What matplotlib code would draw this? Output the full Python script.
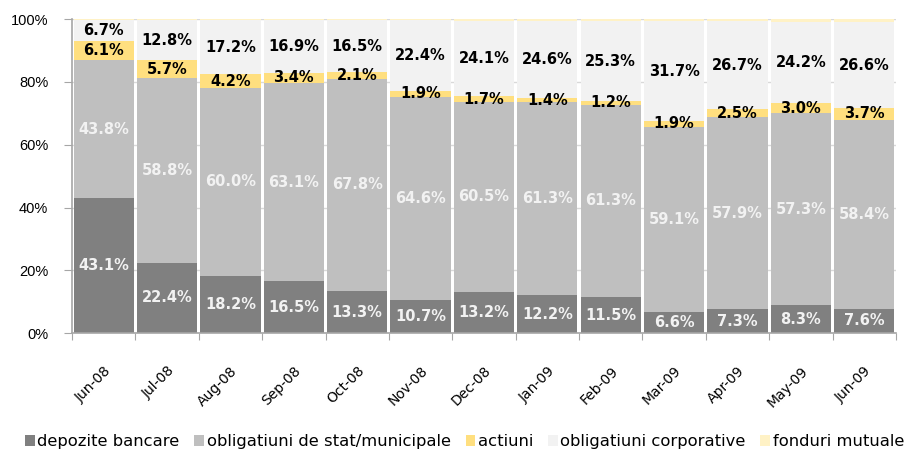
import matplotlib.pyplot as plt
import numpy as np

months = ["Jun-08", "Jul-08", "Aug-08", "Sep-08", "Oct-08", "Nov-08", "Dec-08",
          "Jan-09", "Feb-09", "Mar-09", "Apr-09", "May-09", "Jun-09"]
depozite = [43.1, 22.4, 18.2, 16.5, 13.3, 10.7, 13.2, 12.2, 11.5, 6.6, 7.3, 8.3, 7.6]
oblig_stat = [43.8, 58.8, 60.0, 63.1, 67.8, 64.6, 60.5, 61.3, 61.3, 59.1, 57.9, 57.3, 58.4]
actiuni = [6.1, 5.7, 4.2, 3.4, 2.1, 1.9, 1.7, 1.4, 1.2, 1.9, 2.5, 3.0, 3.7]
oblig_corp = [6.7, 12.8, 17.2, 16.9, 16.5, 22.4, 24.1, 24.6, 25.3, 31.7, 26.7, 24.2, 26.6]
fonduri = [0.3, 0.3, 0.4, 0.1, 0.3, 0.4, 0.5, 0.5, 0.7, 0.7, 0.5, 0.8, 0.9]

series = [
    ("depozite bancare", depozite, "#808080", "#F2F2F2"),
    ("obligatiuni de stat/municipale", oblig_stat, "#BFBFBF", "#F2F2F2"),
    ("actiuni", actiuni, "#FFDF7F", "black"),
    ("obligatiuni corporative", oblig_corp, "#F2F2F2", "black"),
    ("fonduri mutuale", fonduri, "#FFF2C6", None),
]

raw = np.array([s[1] for s in series])
shares = raw / raw.sum(axis=0) * 100  # 100% stacked

fig = plt.figure(figsize=(9.11, 4.57), dpi=100)
ax = fig.add_axes([0.079, 0.271, 0.9045, 0.687])

x = np.arange(len(months))
bottom = np.zeros(len(months))
for (name, vals, color, tcol), h in zip(series, shares):
    ax.bar(x, h, bottom=bottom, width=0.95, color=color, label=name, zorder=2)
    if tcol is not None:
        for xi, b, hh, v in zip(x, bottom, h, vals):
            ax.text(xi, b + hh / 2, f"{v:.1f}%", ha="center", va="center",
                    color=tcol, fontsize=10.5, fontweight="bold", zorder=3)
    bottom += h

ax.set_xlim(-0.5, len(months) - 0.5)
ax.set_ylim(0, 100)
ax.set_yticks(np.arange(0, 101, 20))
ax.set_yticklabels([f"{v}%" for v in range(0, 101, 20)],
                   fontfamily="Liberation Sans", fontsize=10.5)
ax.yaxis.grid(True, color="#D9D9D9", linewidth=1, zorder=0)
ax.set_xticks(np.arange(-0.5, len(months), 1))
ax.set_xticklabels([])
ax.set_xticks(x, minor=True)
ax.set_xticklabels(months, minor=True, rotation=45, ha="right",
                   rotation_mode="anchor", fontsize=10)
ax.tick_params(axis="x", which="minor", length=0, pad=22)
ax.tick_params(axis="x", which="major", length=5, color="#A6A6A6")
ax.tick_params(axis="y", length=6, color="#A6A6A6", pad=11)
for s in ["top", "right"]:
    ax.spines[s].set_visible(False)
for s in ["left", "bottom"]:
    ax.spines[s].set_color("#A6A6A6")
    ax.spines[s].set_linewidth(1.2)

fig.legend(loc="lower center", bbox_to_anchor=(0.51, -0.015), ncol=5, frameon=False,
           fontsize=11.8, handlelength=0.6, handleheight=0.6, handletextpad=0.15,
           columnspacing=0.9)

fig.savefig("out.png", dpi=100)
